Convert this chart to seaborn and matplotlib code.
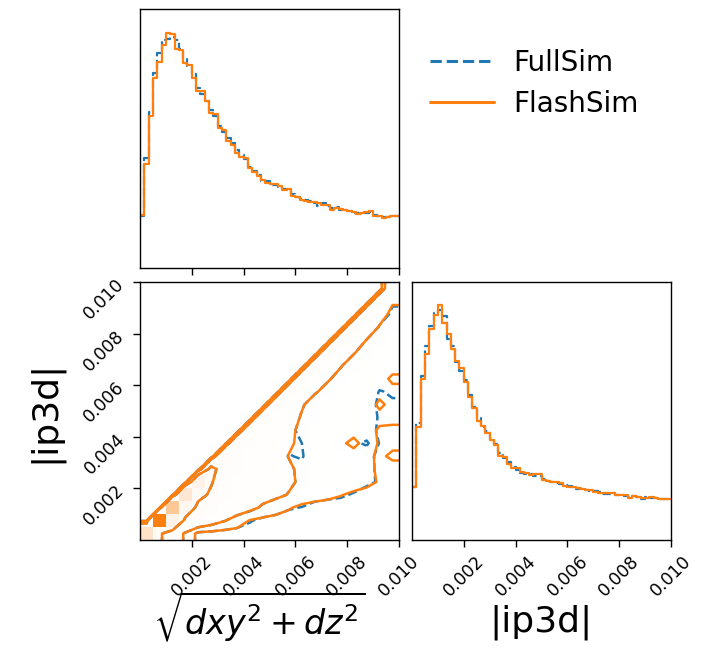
import numpy as np
import pandas as pd
import matplotlib
matplotlib.use("Agg")
import matplotlib.pyplot as plt
import seaborn as sns
from matplotlib.colors import LinearSegmentedColormap
from matplotlib.lines import Line2D

sns.set_style("ticks")
plt.rcParams["font.family"] = ["DejaVu Sans"]
plt.rcParams["text.color"] = "black"
plt.rcParams["axes.labelcolor"] = "black"
plt.rcParams["xtick.color"] = "black"
plt.rcParams["ytick.color"] = "black"

# bins used for the 1D histograms (60) and for the 2D histogram (20)
n_bins_1d = 60
n_bins_2d = 20
value_range = (0, 0.01)

# 1D histogram heights (arbitrary units)
dist_fullsim = [158, 333, 470, 590, 650, 688, 693, 698, 688, 660, 630, 610, 585, 545, 525,
                505, 478, 460, 430, 410, 392, 378, 355, 340, 330, 305, 293, 280, 262, 262,
                252, 250, 244, 238, 235, 222, 215, 208, 205, 202, 196, 188, 196, 188, 180,
                184, 176, 174, 172, 166, 165, 162, 166, 168, 160, 158, 155, 153, 156, 158]
dist_flashsim = [160, 313, 458, 575, 623, 673, 711, 706, 661, 658, 620, 613, 575, 535, 533,
                 503, 468, 465, 423, 418, 383, 371, 348, 335, 333, 303, 291, 278, 265, 258,
                 255, 253, 248, 235, 238, 218, 213, 206, 203, 200, 198, 195, 191, 191, 175,
                 181, 178, 175, 171, 168, 163, 165, 170, 173, 158, 158, 151, 155, 158, 158]
ip3d_fullsim = [160, 355, 500, 590, 650, 690, 700, 680, 610, 590, 540, 515, 485, 440, 405,
                370, 345, 330, 308, 292, 265, 250, 236, 222, 214, 205, 200, 200, 196, 196,
                186, 180, 176, 172, 170, 166, 164, 160, 156, 158, 152, 150, 148, 146, 141,
                140, 142, 138, 136, 134, 132, 134, 130, 126, 130, 128, 127, 126, 125, 124]
ip3d_flashsim = [162, 345, 488, 565, 640, 685, 713, 660, 625, 582, 545, 522, 480, 435, 400,
                 362, 348, 325, 305, 290, 255, 252, 232, 220, 218, 208, 203, 198, 200, 200,
                 183, 180, 175, 175, 172, 165, 162, 162, 158, 155, 153, 153, 147, 144, 142,
                 144, 142, 137, 137, 137, 127, 134, 132, 129, 127, 132, 129, 124, 124, 124]

# 2D histogram (FlashSim), row = ip3d bin, column = distance bin
grid_flashsim = [
    [35, 9, 4, 2.2, 0.6, 0.5, 0.4, 0.4, 0.4, 0.4, 0.35, 0.35, 0.35, 0.3, 0.3, 0.3, 0.3, 0.3, 0.3, 0.3],
    [0, 100, 20, 6, 4.5, 3.5, 2.6, 1.8, 0.9, 0.6, 0.5, 0.5, 0.5, 0.45, 0.4, 0.4, 0.4, 0.4, 0.35, 0.35],
    [0, 0, 55, 14, 6, 4.5, 4, 3.5, 3.0, 2.2, 1.6, 1.1, 0.7, 0.55, 0.5, 0.5, 0.45, 0.45, 0.4, 0.4],
    [0, 0, 0, 30, 10, 7, 4.5, 4, 3.6, 3.2, 2.9, 2.4, 1.8, 1.5, 1.3, 1.05, 0.8, 0.6, 0.6, 0.55],
    [0] * 4 + [18, 8.5, 4.5, 4.2, 3.8, 3.5, 3.2, 2.8, 2.2, 1.9, 1.7, 1.6, 1.5, 1.3, 0.9, 0.8],
    [0] * 5 + [10, 5, 4.5, 4, 3.6, 3.2, 2.7, 2.2, 1.9, 1.7, 1.6, 1.5, 1.3, 0.8, 0.7],
    [0] * 6 + [7, 4.5, 4.0, 3.5, 3.0, 2.45, 2.0, 1.8, 1.6, 1.5, 1.4, 1.2, 0.85, 1.15],
    [0] * 7 + [6.5, 4.2, 3.6, 3.2, 2.7, 2.2, 1.9, 1.8, 2.0, 3.2, 1.5, 0.9, 0.8],
    [0] * 8 + [6, 3.8, 3.3, 2.8, 2.2, 1.9, 1.7, 1.6, 1.6, 1.4, 0.85, 0.85],
    [0] * 9 + [6, 3.5, 3.0, 2.4, 2.0, 1.8, 1.7, 1.6, 1.5, 1.3, 1.2],
    [0] * 10 + [6, 3.3, 2.6, 2.1, 1.9, 1.8, 1.7, 1.5, 0.8, 1.3],
    [0] * 11 + [6, 3.4, 2.6, 2.2, 1.9, 1.8, 1.6, 1.3, 1.3],
    [0] * 12 + [6, 3.5, 2.6, 2.2, 1.9, 1.7, 1.4, 0.8],
    [0] * 13 + [6, 3.6, 2.55, 2.1, 1.8, 1.6, 1.4],
    [0] * 14 + [6, 3.7, 2.55, 2.1, 1.8, 1.6],
    [0] * 15 + [6, 3.8, 2.45, 2.0, 1.8],
    [0] * 16 + [6, 3.8, 2.35, 2.0],
    [0] * 17 + [6, 3.3, 2.0],
    [0] * 18 + [6, 2.7],
    [0] * 19 + [6],
]
# FullSim differs from FlashSim only in these cells: (column, row) -> value
fullsim_cells = {(8, 1): 1.1, (12, 2): 0.95, (15, 3): 1.15, (16, 3): 0.9, (17, 4): 1.2,
                 (12, 6): 2.6, (12, 7): 2.5, (16, 7): 2.1, (17, 7): 2.8, (19, 6): 0.9,
                 (18, 9): 0.9, (19, 9): 0.9, (19, 10): 0.9, (18, 11): 0.95, (19, 11): 1.1,
                 (19, 12): 1.2, (19, 17): 2.2}

contour_levels = [1.0, 2.5, 8.0]
ticks = [0.002, 0.004, 0.006, 0.008, 0.010]

blue = "#1f77b4"
orange = "#ff7f0e"

H_flash = np.array(grid_flashsim, dtype=float)
H_full = H_flash.copy()
for (i, j), v in fullsim_cells.items():
    H_full[j, i] = v

edges_1d = np.linspace(*value_range, n_bins_1d + 1)
edges_2d = np.linspace(*value_range, n_bins_2d + 1)
c1 = 0.5 * (edges_1d[1:] + edges_1d[:-1])
c2 = 0.5 * (edges_2d[1:] + edges_2d[:-1])

fig = plt.figure(figsize=(7.01, 6.71), dpi=100)
W, Hpx = 701, 671
def axes_px(x0, y0, x1, y1):
    return fig.add_axes([x0 / W, 1 - y1 / Hpx, (x1 - x0) / W, (y1 - y0) / Hpx])

ax_top = axes_px(140, 9, 399, 268)
ax_2d = axes_px(140, 282, 399, 540)
ax_rt = axes_px(412, 282, 671, 540)

# 1D histograms
for ax, full, flash in [(ax_top, dist_fullsim, dist_flashsim), (ax_rt, ip3d_fullsim, ip3d_flashsim)]:
    df = pd.DataFrame({"x": c1, "full": full, "flash": flash})
    sns.histplot(data=df, x="x", weights="full", bins=n_bins_1d, binrange=value_range,
                 element="step", fill=False, color=blue, linestyle="--", linewidth=1.6, ax=ax)
    sns.histplot(data=df, x="x", weights="flash", bins=n_bins_1d, binrange=value_range,
                 element="step", fill=False, color=orange, linewidth=1.6, ax=ax)
    ax.set_xlim(value_range)
    ax.set_ylim(0, 1.1 * max(max(full), max(flash)))
    ax.set_yticks([])
    ax.set_ylabel("")
    ax.set_xticks(ticks)
    ax.set_xlabel("")

ax_top.set_xticklabels([])

# 2D histogram + contours
xx, yy = np.meshgrid(c2, c2)
df2 = pd.DataFrame({"x": xx.ravel(), "y": yy.ravel(), "w": H_flash.ravel()})
cmap = LinearSegmentedColormap.from_list("dens", ["white", orange], gamma=1.4)
sns.histplot(data=df2, x="x", y="y", weights="w", bins=n_bins_2d, binrange=value_range,
             cmap=cmap, vmin=0, vmax=H_flash.max(), ax=ax_2d)

cpad = np.concatenate([[c2[0] - 0.0005], c2, [c2[-1] + 0.0005]])
ax_2d.contour(cpad, cpad, np.pad(H_full, 1, mode="edge"), levels=contour_levels,
              colors=blue, linestyles="--", linewidths=1.8)
ax_2d.contour(cpad, cpad, np.pad(H_flash, 1, mode="edge"), levels=contour_levels,
              colors=orange, linewidths=1.8)
ax_2d.set_xlim(value_range)
ax_2d.set_ylim(value_range)
ax_2d.set_xticks(ticks)
ax_2d.set_yticks(ticks)

for ax in [ax_top, ax_2d, ax_rt]:
    ax.tick_params(labelsize=12.5, length=5, width=1, direction="out", colors="black")
    for sp in ax.spines.values():
        sp.set_visible(True)
        sp.set_linewidth(1)
        sp.set_color("black")

for ax in [ax_2d, ax_rt]:
    plt.setp(ax.get_xticklabels(), rotation=45)
plt.setp(ax_2d.get_yticklabels(), rotation=45)

ax_2d.set_xlabel(r"$\sqrt{dxy^2 + dz^2}$", fontsize=24)
ax_2d.set_ylabel("|ip3d|", fontsize=26)
ax_rt.set_xlabel("|ip3d|", fontsize=26)
ax_2d.xaxis.set_label_coords(0.46, -0.19)
ax_rt.xaxis.set_label_coords(0.5, -0.25)
ax_2d.yaxis.set_label_coords(-0.3, 0.5)

handles = [Line2D([], [], color=blue, linestyle="--", linewidth=2.2),
           Line2D([], [], color=orange, linewidth=2.2)]
fig.legend(handles, ["FullSim", "FlashSim"], loc="upper left",
           bbox_to_anchor=(430 / W, 1 - 49 / Hpx), fontsize=20, handlelength=2.3,
           handletextpad=0.7, labelspacing=0.45, borderpad=0, borderaxespad=0,
           frameon=False)

fig.savefig("out.png", dpi=100)
